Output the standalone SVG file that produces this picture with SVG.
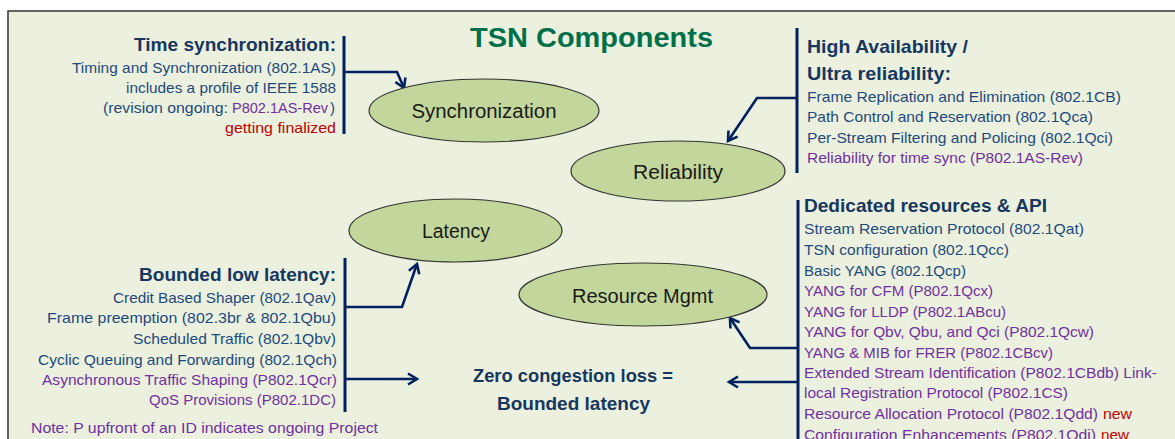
<svg xmlns="http://www.w3.org/2000/svg" width="1175" height="439" viewBox="0 0 1175 439">
<defs>
<style>
text{font-family:"Liberation Sans",Arial,sans-serif;}
.h{font-weight:bold;font-size:19px;fill:#17375E;}
.b{font-size:15px;fill:#1F497D;}
.p{font-size:15px;fill:#7030A0;}
.r{font-size:15px;fill:#C00000;}
.e{fill:#C3D69B;stroke:#333333;stroke-width:1.2;}
.el{font-size:20px;fill:#1A1A1A;text-anchor:middle;}
.bar{stroke:#002060;stroke-width:3;fill:none;}
.con{stroke:#002060;stroke-width:2.6;fill:none;marker-end:url(#arr);}
.end{text-anchor:end;}
</style>
<marker id="arr" markerUnits="userSpaceOnUse" markerWidth="14" markerHeight="14" refX="11" refY="7" orient="auto" viewBox="0 0 14 14">
<path d="M2,1.5 L11,7 L2,12.5" fill="none" stroke="#002060" stroke-width="2.6"/>
</marker>
</defs>
<rect x="8" y="11" width="1200" height="500" fill="#EBF1DE" stroke="#333333" stroke-width="1.5"/>
<text x="470" y="47" textLength="243" lengthAdjust="spacingAndGlyphs" style="font-weight:bold;font-size:28px;fill:#00704A">TSN Components</text>

<g id="connectors">
<line class="bar" x1="344" y1="36" x2="344" y2="134"/>
<line class="bar" x1="797" y1="28" x2="797" y2="173"/>
<line class="bar" x1="345" y1="258" x2="345" y2="412"/>
<line class="bar" x1="798" y1="200" x2="798" y2="445"/>
<path class="con" d="M344,72 L397,72 L404,88"/>
<path class="con" d="M797,98 L757,98 L728,141"/>
<path class="con" d="M345,307 L402,307 L417,264"/>
<path class="con" d="M345,379 L417,379"/>
<path class="con" d="M798,348 L750,348 L730,318"/>
<path class="con" d="M798,382 L729,382"/>
</g>

<g id="synchronization">
<ellipse class="e" cx="484" cy="110.5" rx="115" ry="31.5"/>
<text class="el" x="484" y="118" textLength="145" lengthAdjust="spacingAndGlyphs">Synchronization</text>
</g>
<g id="reliability">
<ellipse class="e" cx="678" cy="171" rx="107" ry="30"/>
<text class="el" x="678" y="179" textLength="90" lengthAdjust="spacingAndGlyphs">Reliability</text>
</g>
<g id="latency">
<ellipse class="e" cx="455.5" cy="230.5" rx="106.5" ry="31.5"/>
<text class="el" x="456" y="238" textLength="68" lengthAdjust="spacingAndGlyphs">Latency</text>
</g>
<g id="resource-mgmt">
<ellipse class="e" cx="643" cy="294.5" rx="124" ry="31.5"/>
<text class="el" x="642.5" y="303" textLength="141" lengthAdjust="spacingAndGlyphs">Resource Mgmt</text>
</g>

<g id="time-sync-text">
<text class="h end" x="336" y="51" textLength="202" lengthAdjust="spacingAndGlyphs">Time synchronization:</text>
<text class="b end" x="336" y="73" textLength="264" lengthAdjust="spacingAndGlyphs">Timing and Synchronization (802.1AS)</text>
<text class="b end" x="336" y="93" textLength="210" lengthAdjust="spacingAndGlyphs">includes a profile of IEEE 1588</text>
<text class="b" x="103" y="113" textLength="125" lengthAdjust="spacingAndGlyphs">(revision ongoing:</text>
<text class="p" x="232" y="113" textLength="96" lengthAdjust="spacingAndGlyphs">P802.1AS-Rev</text>
<text class="b" x="330" y="113">)</text>
<text class="r end" x="336" y="133" textLength="111" lengthAdjust="spacingAndGlyphs">getting finalized</text>
</g>

<g id="reliability-text">
<text class="h" x="807" y="53" textLength="161" lengthAdjust="spacingAndGlyphs">High Availability /</text>
<text class="h" x="807" y="80" textLength="144" lengthAdjust="spacingAndGlyphs">Ultra reliability:</text>
<text class="b" x="807" y="102" textLength="314" lengthAdjust="spacingAndGlyphs">Frame Replication and Elimination (802.1CB)</text>
<text class="b" x="807" y="122" textLength="286" lengthAdjust="spacingAndGlyphs">Path Control and Reservation (802.1Qca)</text>
<text class="b" x="807" y="143" textLength="306" lengthAdjust="spacingAndGlyphs">Per-Stream Filtering and Policing (802.1Qci)</text>
<text class="p" x="807" y="163" textLength="276" lengthAdjust="spacingAndGlyphs">Reliability for time sync (P802.1AS-Rev)</text>
</g>

<g id="latency-text">
<text class="h end" x="336" y="281" textLength="197" lengthAdjust="spacingAndGlyphs">Bounded low latency:</text>
<text class="b end" x="336" y="303" textLength="223" lengthAdjust="spacingAndGlyphs">Credit Based Shaper (802.1Qav)</text>
<text class="b end" x="336" y="323" textLength="289" lengthAdjust="spacingAndGlyphs">Frame preemption (802.3br &amp; 802.1Qbu)</text>
<text class="b end" x="336" y="344" textLength="203" lengthAdjust="spacingAndGlyphs">Scheduled Traffic (802.1Qbv)</text>
<text class="b end" x="337" y="365" textLength="299" lengthAdjust="spacingAndGlyphs">Cyclic Queuing and Forwarding (802.1Qch)</text>
<text class="p end" x="337" y="385" textLength="295" lengthAdjust="spacingAndGlyphs">Asynchronous Traffic Shaping (P802.1Qcr)</text>
<text class="p end" x="336" y="405" textLength="187" lengthAdjust="spacingAndGlyphs">QoS Provisions (P802.1DC)</text>
<text class="p" x="31" y="433" textLength="347" lengthAdjust="spacingAndGlyphs">Note: P upfront of an ID indicates ongoing Project</text>
</g>

<g id="zero-congestion">
<text class="h" x="573" y="382" text-anchor="middle" textLength="200" lengthAdjust="spacingAndGlyphs">Zero congestion loss =</text>
<text class="h" x="573.5" y="410" text-anchor="middle" textLength="153" lengthAdjust="spacingAndGlyphs">Bounded latency</text>
</g>

<g id="resources-text">
<text class="h" x="804" y="212" textLength="243" lengthAdjust="spacingAndGlyphs">Dedicated resources &amp; API</text>
<text class="b" x="804" y="234" textLength="280" lengthAdjust="spacingAndGlyphs">Stream Reservation Protocol (802.1Qat)</text>
<text class="b" x="804" y="255" textLength="205" lengthAdjust="spacingAndGlyphs">TSN configuration (802.1Qcc)</text>
<text class="b" x="804" y="276" textLength="162" lengthAdjust="spacingAndGlyphs">Basic YANG (802.1Qcp)</text>
<text class="p" x="804" y="296" textLength="189" lengthAdjust="spacingAndGlyphs">YANG for CFM (P802.1Qcx)</text>
<text class="p" x="804" y="317" textLength="202" lengthAdjust="spacingAndGlyphs">YANG for LLDP (P802.1ABcu)</text>
<text class="p" x="804" y="337" textLength="290" lengthAdjust="spacingAndGlyphs">YANG for Qbv, Qbu, and Qci (P802.1Qcw)</text>
<text class="p" x="804" y="358" textLength="249" lengthAdjust="spacingAndGlyphs">YANG &amp; MIB for FRER (P802.1CBcv)</text>
<text class="p" x="804" y="378" textLength="353" lengthAdjust="spacingAndGlyphs">Extended Stream Identification (P802.1CBdb) Link-</text>
<text class="p" x="804" y="398" textLength="264" lengthAdjust="spacingAndGlyphs">local Registration Protocol (P802.1CS)</text>
<text class="p" x="804" y="419" textLength="294" lengthAdjust="spacingAndGlyphs">Resource Allocation Protocol (P802.1Qdd)</text>
<text class="r" x="1103" y="419" textLength="29" lengthAdjust="spacingAndGlyphs">new</text>
<text class="p" x="804" y="440" textLength="292" lengthAdjust="spacingAndGlyphs">Configuration Enhancements (P802.1Qdi)</text>
<text class="r" x="1101" y="440" textLength="28" lengthAdjust="spacingAndGlyphs">new</text>
</g>
</svg>
